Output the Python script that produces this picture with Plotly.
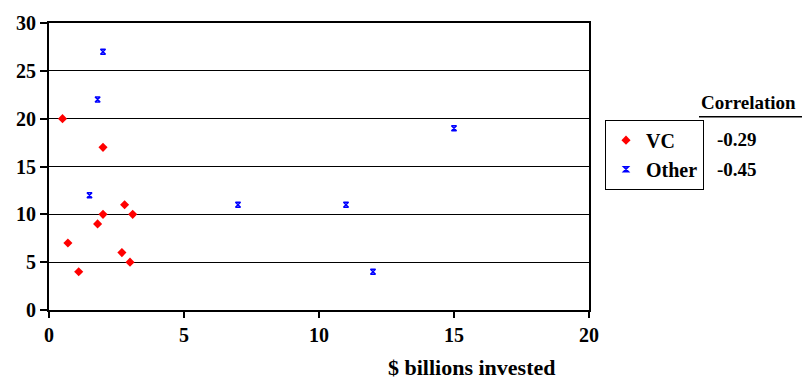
import plotly.graph_objects as go

# Investment size vs. return, by fund type
vc_invested = [0.5, 0.7, 1.1, 1.8, 2.0, 2.0, 2.7, 2.8, 3.0, 3.1]
vc_return = [20, 7, 4, 9, 10, 17, 6, 11, 5, 10]

other_invested = [1.5, 1.8, 2.0, 7.0, 11.0, 12.0, 15.0]
other_return = [12, 22, 27, 11, 11, 4, 19]

series_names = ["VC", "Other"]
correlations = ["-0.29", "-0.45"]

x_ticks = [0, 5, 10, 15, 20]
y_ticks = [0, 5, 10, 15, 20, 25, 30]

FONT = "Times New Roman"
W, H = 802, 379
ML, MR, MT, MB = 49, 213, 16, 69
PW, PH = W - ML - MR, H - MT - MB


def px_to_paper(px, py):
    return (px - ML) / PW, (H - MB - py) / PH


fig = go.Figure()
fig.add_trace(go.Scatter(
    x=vc_invested, y=vc_return, mode="markers", name=series_names[0],
    legendgroup="a",
    marker=dict(symbol="diamond", size=7, color="#ff0000", line=dict(width=0)),
))
fig.add_trace(go.Scatter(
    x=other_invested, y=other_return, mode="markers", name=series_names[1],
    legendgroup="b",
    marker=dict(symbol="hourglass-open", size=5, color="#0000ff",
                line=dict(width=1.5, color="#0000ff")),
))

axis_font = dict(family=FONT, size=20, color="black", weight="bold")

fig.update_xaxes(
    range=[0, 20], tickvals=x_ticks, ticks="outside", ticklen=6, tickwidth=1.5,
    tickcolor="black", showgrid=False, zeroline=False,
    showline=True, linecolor="black", linewidth=2, mirror=True,
    tickfont=axis_font,
)
fig.update_yaxes(
    range=[0, 30], tickvals=y_ticks, ticks="outside", ticklen=7, tickwidth=1.5,
    tickcolor="black", showgrid=True, gridcolor="black", gridwidth=1,
    zeroline=False, showline=True, linecolor="black", linewidth=2, mirror=True,
    tickfont=axis_font,
)

label_font = dict(family=FONT, size=19, color="black", weight="bold")

annotations = []
# x-axis title
tx, ty = px_to_paper(471, 369)
annotations.append(dict(
    text="$ billions invested", x=tx, y=ty, xref="paper", yref="paper",
    showarrow=False, xanchor="center", yanchor="middle",
    font=dict(family=FONT, size=22, color="black", weight="bold"),
))
# correlation header and values
hx, hy = px_to_paper(748, 97)
annotations.append(dict(
    text="Correlation", x=hx, y=hy, xref="paper", yref="paper",
    showarrow=False, xanchor="center", yanchor="middle", font=label_font,
))
for val, py in zip(correlations, [135, 166]):
    vx, vy = px_to_paper(737, py)
    annotations.append(dict(
        text=val, x=vx, y=vy, xref="paper", yref="paper",
        showarrow=False, xanchor="center", yanchor="middle", font=label_font,
    ))

ux0, uy = px_to_paper(699, 112)
ux1, _ = px_to_paper(802, 112)

lx, ly = px_to_paper(605, 115)

fig.update_layout(
    width=W, height=H,
    margin=dict(l=ML, r=MR, t=MT, b=MB),
    paper_bgcolor="white", plot_bgcolor="white",
    font=dict(family=FONT, color="black"),
    annotations=annotations,
    shapes=[dict(type="line", xref="paper", yref="paper",
                 x0=ux0, x1=ux1, y0=uy, y1=uy,
                 line=dict(color="black", width=1.5))],
    showlegend=True,
    legend=dict(
        x=lx, y=ly, xanchor="left", yanchor="top",
        bordercolor="black", borderwidth=1, bgcolor="white",
        font=dict(family=FONT, size=20, color="black", weight="bold"),
        tracegroupgap=0, itemwidth=30,
    ),
)

fig.write_html("out.html")
